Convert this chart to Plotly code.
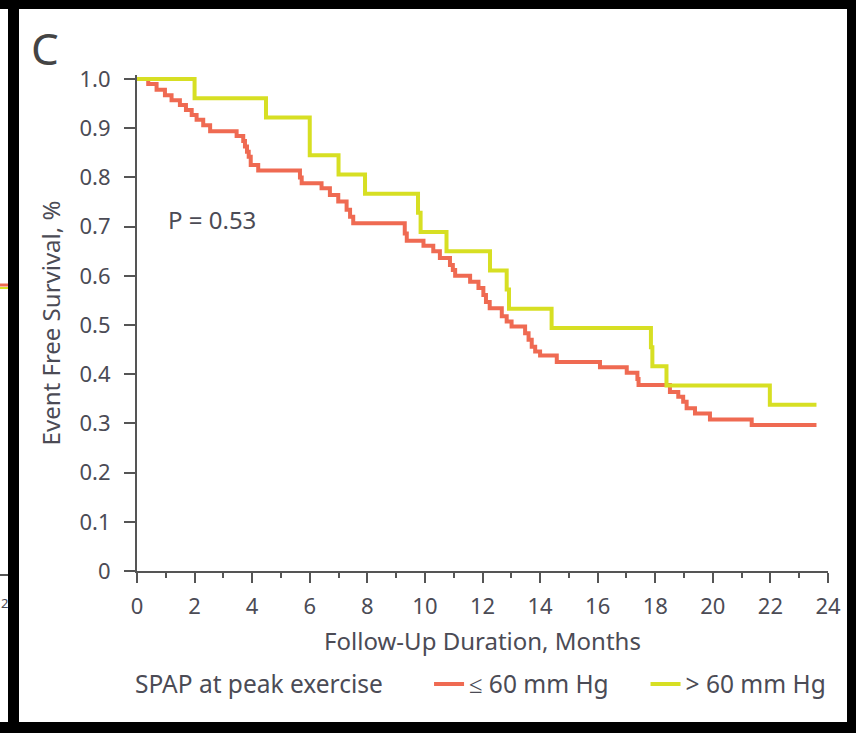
import plotly.graph_objects as go

# ---- data ----
low_t = [0, 0.39, 0.68, 0.97, 1.20, 1.49, 1.70, 1.90, 2.07, 2.30, 2.54, 3.46, 3.69, 3.75, 3.82, 3.88,
         3.95, 4.21, 5.66, 5.72, 6.41, 6.70, 6.99, 7.28, 7.40, 7.51, 9.30, 9.37, 9.95, 10.29, 10.52,
         10.87, 10.97, 11.05, 11.57, 11.86, 12.03, 12.12, 12.25, 12.67, 12.84, 13.01, 13.48, 13.60,
         13.71, 13.83, 14.00, 14.58, 16.08, 17.01, 17.38, 17.42, 18.51, 18.80, 18.97, 19.09, 19.38,
         19.90, 21.35, 23.60]
low_s = [1.0, 0.990, 0.978, 0.967, 0.957, 0.947, 0.937, 0.927, 0.917, 0.906, 0.894, 0.884, 0.874, 0.863,
         0.852, 0.842, 0.825, 0.814, 0.800, 0.788, 0.778, 0.764, 0.751, 0.734, 0.720, 0.707, 0.686, 0.671,
         0.661, 0.650, 0.636, 0.622, 0.612, 0.600, 0.588, 0.575, 0.561, 0.547, 0.534, 0.518, 0.507, 0.497,
         0.483, 0.470, 0.456, 0.446, 0.438, 0.425, 0.414, 0.403, 0.390, 0.378, 0.364, 0.354, 0.344, 0.331,
         0.320, 0.308, 0.297, 0.297]

high_t = [0, 2.00, 4.48, 6.00, 7.00, 7.92, 9.76, 9.85, 10.75, 12.26, 12.84, 12.92, 14.40, 17.85, 17.90,
          18.39, 21.98, 23.60]
high_s = [1.0, 0.961, 0.922, 0.845, 0.806, 0.767, 0.728, 0.689, 0.650, 0.611, 0.572, 0.533, 0.494, 0.455,
          0.416, 0.377, 0.338, 0.338]

x_ticks = list(range(0, 25, 2))
y_tickvals = [0, 0.1, 0.2, 0.3, 0.4, 0.5, 0.6, 0.7, 0.8, 0.9, 1.0]
y_ticktext = ["0", "0.1", "0.2", "0.3", "0.4", "0.5", "0.6", "0.7", "0.8", "0.9", "1.0"]

RED = "#EF6A52"
YEL = "#D7DF23"
TXT = "#4b4b55"
AX = "#555555"
FONT = "Noto Sans"
NB = "\u00a0"

W, H = 856, 733
L, R, T, B = 137, 828, 75, 571   # plot area in px
PW, PH = R - L, B - T


def px(x):
    return (x - L) / PW


def py(y):
    return (B - y) / PH


fig = go.Figure()
fig.add_trace(go.Scatter(x=low_t, y=low_s, mode="lines", line=dict(color=RED, width=4, shape="hv"),
                         name="≤ 60 mm Hg" + NB * 5))
fig.add_trace(go.Scatter(x=high_t, y=high_s, mode="lines", line=dict(color=YEL, width=4, shape="hv"),
                         name="> 60 mm Hg"))

shapes = [
    # white panel
    dict(type="rect", xref="paper", yref="paper", x0=px(19), x1=px(847), y0=py(722), y1=py(9),
         fillcolor="white", line=dict(width=0), layer="below"),
    # fragment of neighbouring panel on the far left
    dict(type="rect", xref="paper", yref="paper", x0=px(0), x1=px(8), y0=py(722), y1=py(9),
         fillcolor="white", line=dict(width=0), layer="below"),
    dict(type="line", xref="paper", yref="paper", x0=px(0), x1=px(8), y0=py(285), y1=py(285),
         line=dict(color=RED, width=3), layer="below"),
    dict(type="line", xref="paper", yref="paper", x0=px(0), x1=px(8), y0=py(288), y1=py(288),
         line=dict(color=YEL, width=2), layer="below"),
    dict(type="line", xref="paper", yref="paper", x0=px(0), x1=px(8), y0=py(575), y1=py(575),
         line=dict(color=AX, width=2), layer="below"),
]

annotations = [
    dict(text="C", xref="paper", yref="paper", x=px(29), y=py(48), xanchor="left", yanchor="middle",
         showarrow=False, font=dict(family=FONT, size=44, color="#444444")),
    dict(text="P = 0.53", xref="x", yref="y", x=1.0, y=0.715, xanchor="left", yanchor="middle",
         showarrow=False, font=dict(family=FONT, size=24, color=TXT)),
    dict(text="2", xref="paper", yref="paper", x=px(0), y=py(603), xanchor="left", yanchor="middle",
         showarrow=False, borderpad=0, font=dict(family=FONT, size=13, color=TXT)),
]

fig.update_layout(
    width=W, height=H,
    margin=dict(l=L, r=W - R, t=T, b=H - B),
    paper_bgcolor="black", plot_bgcolor="white",
    font=dict(family=FONT, size=22, color=TXT),
    shapes=shapes, annotations=annotations,
    showlegend=True,
    legend=dict(orientation="h", x=px(133), xanchor="left", y=py(684), yanchor="middle",
                bgcolor="rgba(0,0,0,0)", font=dict(family=FONT, size=24.5, color=TXT),
                title=dict(text="SPAP at peak exercise" + NB * 6, side="left",
                           font=dict(family=FONT, size=24.5, color=TXT)),
                itemwidth=30, traceorder="normal"),
)

fig.update_xaxes(range=[0, 24], tickvals=x_ticks, showgrid=False, zeroline=False,
                 showline=True, linecolor=AX, linewidth=2,
                 ticks="outside", ticklen=10, tickwidth=2, tickcolor=AX, ticklabelstandoff=5,
                 tickfont=dict(family=FONT, size=22, color=TXT),
                 minor=dict(dtick=1, ticks="outside", ticklen=5, tickwidth=2, tickcolor=AX),
                 title=dict(text="Follow-Up Duration, Months", standoff=14,
                            font=dict(family=FONT, size=24, color=TXT)))
fig.update_yaxes(range=[0, 1 + 4 / 492], tickvals=y_tickvals, ticktext=y_ticktext, showgrid=False,
                 zeroline=False, showline=True, linecolor=AX, linewidth=2,
                 ticks="outside", ticklen=11, tickwidth=2, tickcolor=AX, ticklabelstandoff=9,
                 tickfont=dict(family=FONT, size=22, color=TXT),
                 title=dict(text="Event Free Survival, %", standoff=12,
                            font=dict(family=FONT, size=24, color=TXT)))

fig.write_html("out.html")
